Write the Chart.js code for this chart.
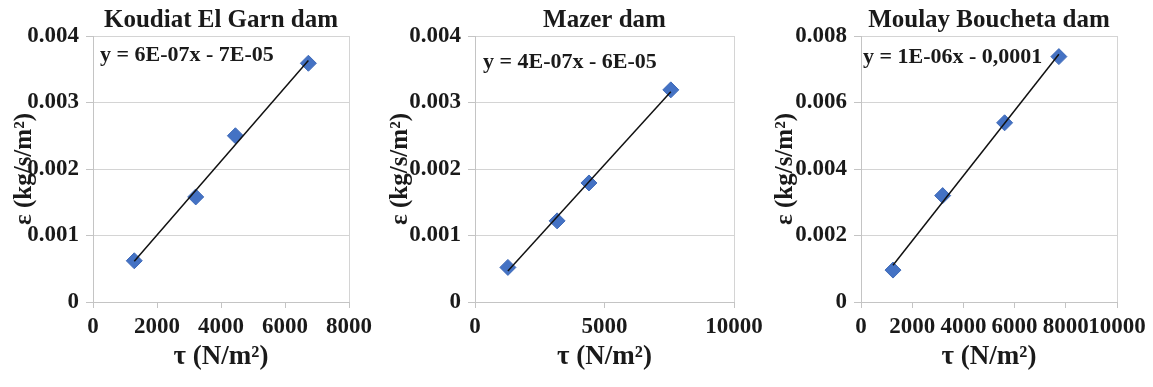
<!DOCTYPE html>
<html>
<head>
<meta charset="utf-8">
<script src="https://cdn.jsdelivr.net/npm/chart.js@4.4.0/dist/chart.umd.min.js"></script>
<style>
  body { margin: 0; background: #fff; }
  .row { display: flex; width: 1153px; height: 387px; }
  .box { position: relative; height: 387px; }
</style>
</head>
<body>
<div class="row">
  <div class="box" style="width:384px"><canvas id="c1"></canvas></div>
  <div class="box" style="width:385px"><canvas id="c2"></canvas></div>
  <div class="box" style="width:384px"><canvas id="c3"></canvas></div>
</div>
<script>
// values: tau (N/m2) and erosion rate (kg/s/m2)
var titles = ['Koudiat El Garn dam', 'Mazer dam', 'Moulay Boucheta dam'];
var equations = ['y = 6E-07x - 7E-05', 'y = 4E-07x - 6E-05', 'y = 1E-06x - 0,0001'];

var kgTau = [1290, 3210, 4450, 6730];
var kgEps = [0.00062, 0.00158, 0.0025, 0.00359];

var mzTau = [1270, 3170, 4400, 7560];
var mzEps = [0.00052, 0.00122, 0.00179, 0.00319];

var mbTau = [1250, 3190, 5610, 7730];
var mbEps = [0.00096, 0.0032, 0.00539, 0.00738];

var xMax = [8000, 10000, 10000];
var xStep = [2000, 5000, 2000];
var yMax = [0.004, 0.004, 0.008];
var yStep = [0.001, 0.001, 0.002];

var serif = 'Liberation Serif';
var ink = '#1a1a1a';

// least squares line through the points, drawn across their x range
function trend(xs, ys) {
  var n = xs.length, sx = 0, sy = 0, sxx = 0, sxy = 0;
  for (var i = 0; i < n; i++) {
    sx += xs[i]; sy += ys[i]; sxx += xs[i] * xs[i]; sxy += xs[i] * ys[i];
  }
  var b = (n * sxy - sx * sy) / (n * sxx - sx * sx);
  var a = (sy - b * sx) / n;
  var lo = Math.min.apply(null, xs), hi = Math.max.apply(null, xs);
  return [{x: lo, y: a + b * lo}, {x: hi, y: a + b * hi}];
}

var frame = {
  id: 'frame',
  afterDraw: function(chart) {
    var ctx = chart.ctx, a = chart.chartArea;
    ctx.save();
    ctx.strokeStyle = '#d4d4d4';
    ctx.lineWidth = 1;
    ctx.beginPath();
    ctx.moveTo(Math.round(a.right) + 0.5, a.top);
    ctx.lineTo(Math.round(a.right) + 0.5, a.bottom);
    ctx.stroke();
    var o = chart.options.plugins.frame;
    ctx.font = 'bold 22px "' + serif + '"';
    ctx.fillStyle = ink;
    ctx.textBaseline = 'middle';
    ctx.fillText(o.text, a.left + o.dx, a.top + o.dy);
    ctx.restore();
  }
};

function makeChart(id, k, xs, ys, opt) {
  var pts = xs.map(function(x, i) { return {x: x, y: ys[i]}; });
  new Chart(document.getElementById(id), {
    type: 'scatter',
    data: {
      datasets: [
        {
          type: 'line',
          data: trend(xs, ys),
          borderColor: '#111',
          borderWidth: 1.5,
          pointRadius: 0,
          fill: false
        },
        {
          data: pts,
          pointStyle: 'rectRot',
          pointRadius: 8,
          backgroundColor: '#4472c4',
          borderColor: '#3f6ab8',
          borderWidth: 1
        }
      ]
    },
    plugins: [frame],
    options: {
      responsive: true,
      maintainAspectRatio: false,
      animation: false,
      layout: { padding: { left: 0, right: opt.right, top: 0, bottom: 0 } },
      plugins: {
        legend: { display: false },
        tooltip: { enabled: false },
        title: {
          display: true,
          text: titles[k],
          fullSize: false,
          color: ink,
          font: { family: serif, size: 25, weight: 'bold' },
          padding: { top: 6, bottom: 0 }
        },
        frame: { text: equations[k], dx: opt.eqX, dy: opt.eqY }
      },
      scales: {
        x: {
          type: 'linear',
          min: 0,
          max: xMax[k],
          afterFit: function(s) { s.height = 85; },
          afterBuildTicks: function(s) {
            var t = [];
            for (var v = 0; v <= xMax[k]; v += xStep[k]) t.push({value: v});
            s.ticks = t;
          },
          ticks: {
            autoSkip: false,
            maxRotation: 0,
            padding: 5,
            color: ink,
            font: { family: serif, size: 23, weight: 'bold' },
            callback: function(v) { return String(v); }
          },
          grid: { drawOnChartArea: false, drawTicks: true, tickLength: 6, color: '#c4c4c4' },
          border: { display: true, color: '#c4c4c4' },
          title: {
            display: true,
            text: 'τ (N/m²)',
            color: ink,
            font: { family: serif, size: 27, weight: 'bold' },
            padding: { top: 0, bottom: 14 }
          }
        },
        y: {
          min: 0,
          max: yMax[k],
          afterFit: function(s) { s.width = opt.left; },
          afterBuildTicks: function(s) {
            var t = [];
            for (var i = 0; i * yStep[k] <= yMax[k] + 1e-9; i++) t.push({value: i * yStep[k]});
            s.ticks = t;
          },
          ticks: {
            padding: 7,
            color: ink,
            font: { family: serif, size: 23, weight: 'bold' },
            callback: function(v) { return v === 0 ? '0' : v.toFixed(3); }
          },
          grid: { color: '#d4d4d4', tickLength: 7, tickColor: '#c4c4c4' },
          border: { display: true, color: '#c4c4c4' },
          title: {
            display: true,
            text: 'ε (kg/s/m²)',
            color: ink,
            font: { family: serif, size: 25, weight: 'bold' },
            padding: { top: opt.titleX, bottom: 0 }
          }
        }
      }
    }
  });
}

makeChart('c1', 0, kgTau, kgEps, { left: 93, right: 35, eqX: 7, eqY: 19, titleX: 10 });
makeChart('c2', 1, mzTau, mzEps, { left: 91, right: 35, eqX: 8, eqY: 26, titleX: 2 });
makeChart('c3', 2, mbTau, mbEps, { left: 92, right: 36, eqX: 2, eqY: 21, titleX: 2 });
</script>
</body>
</html>
